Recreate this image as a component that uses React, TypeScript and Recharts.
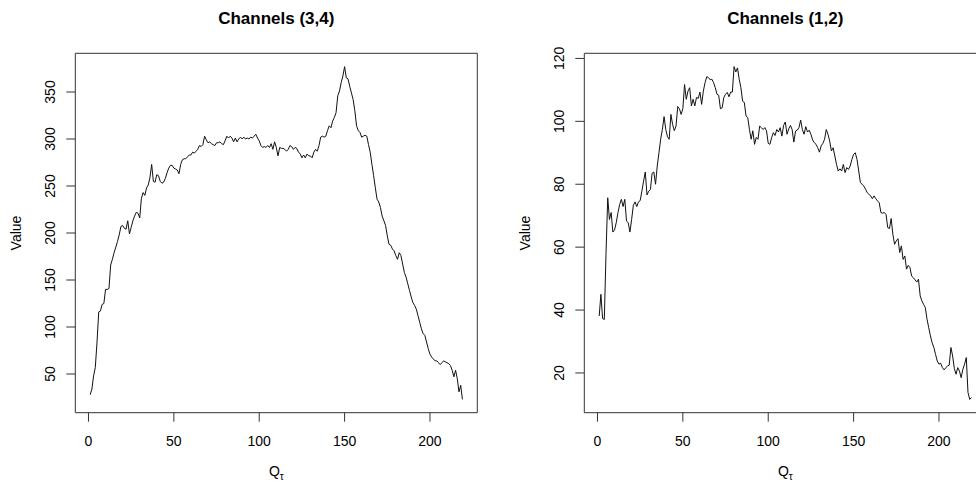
import { LineChart, Line, XAxis, YAxis, ReferenceArea } from "recharts";

// values, x = 1..219
const xTicks = [0, 50, 100, 150, 200];
const ticks34 = [50, 100, 150, 200, 250, 300, 350];
const ticks12 = [20, 40, 60, 80, 100, 120];

const channels34 = [
  28, 34, 48, 57, 84, 116, 117, 124, 125, 140, 140, 141, 166, 172, 179, 185, 191, 198, 207, 208,
  205, 204, 213, 199, 206, 213, 218, 222, 221, 216, 237, 243, 240, 248, 251, 259, 273, 255, 254, 262,
  261, 255, 253, 254, 258, 264, 269, 272, 272, 269, 268, 267, 263, 273, 278, 279, 279, 281, 283, 283,
  286, 285, 287, 289, 293, 292, 294, 303, 299, 296, 297, 295, 294, 293, 296, 296, 297, 295, 294, 298,
  303, 301, 303, 301, 297, 301, 297, 300, 302, 300, 302, 300, 301, 300, 302, 301, 303, 305, 301, 298,
  293, 291, 292, 291, 293, 291, 295, 289, 297, 291, 282, 291, 290, 290, 289, 287, 289, 293, 292, 289,
  291, 290, 286, 284, 280, 283, 280, 284, 282, 282, 280, 286, 289, 287, 293, 302, 303, 302, 303, 309,
  314, 312, 319, 323, 328, 346, 351, 360, 367, 377, 365, 364, 356, 349, 342, 330, 314, 309, 307, 302,
  303, 304, 303, 294, 286, 273, 261, 248, 236, 233, 227, 218, 213, 208, 197, 188, 187, 183, 181, 176,
  172, 179, 176, 167, 158, 153, 146, 139, 132, 126, 123, 119, 112, 105, 98, 93, 91, 84, 77, 71,
  68, 66, 64, 64, 62, 60, 62, 64, 63, 62, 61, 59, 54, 47, 54, 45, 31, 38, 23,
];

const channels12 = [
  38.1, 45, 37.3, 37, 58, 75.7, 68.8, 71, 64.8, 65.5, 67.8, 71, 73.6, 75.2, 72.9, 75.2, 68.3, 67.8, 64.8, 68.8,
  73.3, 74.4, 72.9, 74.4, 74.8, 77.8, 81, 83.9, 76.6, 77.8, 78.3, 83.5, 83.9, 80, 85.8, 90, 94.3, 97.4, 101.5, 97.4,
  95.1, 94.3, 102.2, 99, 97, 98.5, 104.7, 104, 102.2, 104, 111.7, 107, 109.6, 110.7, 104.9, 107, 104.9, 107.6, 107.3, 109.3,
  105.4, 109.6, 112.3, 114.2, 113.9, 113.2, 113.4, 112.3, 110.7, 108.6, 108.3, 104, 104.3, 107.6, 108.6, 109.2, 107.8, 109.3, 109.3, 117.4,
  115.7, 117, 113.4, 110.7, 106.4, 106, 101.7, 101.2, 97.4, 94.3, 97, 92.7, 94.9, 94.3, 98.5, 98, 97.4, 98, 97, 93,
  92.7, 94.8, 96.4, 95.5, 97.4, 96.6, 98, 95.3, 98.7, 99.8, 95.9, 97.6, 98.7, 97.4, 93.4, 96.9, 97.2, 98, 100.4, 97.4,
  95.9, 98.3, 96.6, 97.2, 95.9, 94.1, 93.2, 92.7, 91.6, 90.2, 92.2, 93, 94.3, 97.4, 95.9, 93.7, 90.6, 91.6, 89, 86.3,
  84.2, 84.9, 84.2, 86.3, 83.7, 85.3, 84.7, 85.8, 87.9, 89.5, 90, 87.9, 84.2, 80.5, 80, 79.4, 78.4, 77.3, 76.8, 76.3,
  75.4, 76.3, 75.4, 74.7, 74.1, 71, 70.8, 71, 70.4, 66.2, 65.9, 69.1, 64.1, 60.9, 62, 62.7, 58.3, 60.4, 56.1, 57.2,
  53, 54.2, 53.5, 50.8, 50.3, 49.6, 48.9, 49.8, 44.5, 42.9, 41.8, 40.8, 37.1, 34.4, 31.8, 29.6, 28.1, 25.9, 23.8, 22.8,
  23.1, 21.7, 21, 21.7, 22.2, 22.5, 28.1, 25.4, 21.4, 19.6, 21.7, 20.6, 18.5, 21.2, 22.8, 24.9, 13.8, 11.6, 12.2,
];

const FONT = "'Liberation Sans', Arial, Helvetica, sans-serif";
const W = 488;
const H = 481;
// plot region (same for both panels)
const PL = 75.3;
const PR = 477.3;
const PT = 53.3;
const PB = 412.7;
const CX = (PL + PR) / 2;

// R style 4% padding
function padRange(lo: number, hi: number): [number, number] {
  const d = (hi - lo) * 0.04;
  return [lo - d, hi + d];
}

const XTick = (props: any) => {
  const { x, y, payload } = props;
  return (
    <text x={x} y={y + 24} textAnchor="middle" fontSize={14} fontFamily={FONT} fill="#000">
      {payload.value}
    </text>
  );
};

const YTick = (props: any) => {
  const { x, y, payload } = props;
  const bx = x - 11;
  return (
    <text x={bx} y={y} transform={`rotate(-90 ${bx} ${y})`} textAnchor="middle" fontSize={14} fontFamily={FONT} fill="#000">
      {payload.value}
    </text>
  );
};

function Panel({ title, values, yTicks }: { title: string; values: number[]; yTicks: number[] }) {
  const data = values.map((v, i) => ({ x: i + 1, v }));
  const xDomain = padRange(1, values.length);
  const yDomain = padRange(Math.min(...values), Math.max(...values));
  const vx = PL - 54.6;
  const vy = (PT + PB) / 2;

  return (
    <LineChart width={W} height={H} data={data} margin={{ top: PT, right: W - PR, bottom: 0, left: 0 }}>
      <XAxis
        dataKey="x"
        type="number"
        domain={xDomain}
        ticks={xTicks}
        interval={0}
        allowDataOverflow
        axisLine={false}
        tickLine={{ stroke: "#333" }}
        tickSize={9}
        tickMargin={0}
        height={H - PB}
        tick={<XTick />}
        label={{
          content: () => (
            <g fontFamily={FONT}>
              <text x={CX} y={24} textAnchor="middle" fontSize={17} fontWeight="bold" fill="#000">
                {title}
              </text>
              <text x={CX} y={476} textAnchor="middle" fontSize={14} fill="#000">
                Q
                <tspan fontSize={10} dy={3.5}>τ</tspan>
              </text>
            </g>
          ),
        }}
      />
      <YAxis
        type="number"
        domain={yDomain}
        ticks={yTicks}
        interval={0}
        allowDataOverflow
        axisLine={false}
        tickLine={{ stroke: "#333" }}
        tickSize={9}
        tickMargin={0}
        width={PL}
        tick={<YTick />}
        label={{
          content: () => (
            <text x={vx} y={vy} transform={`rotate(-90 ${vx} ${vy})`} textAnchor="middle" fontSize={14} fontFamily={FONT} fill="#000">
              Value
            </text>
          ),
        }}
      />
      <ReferenceArea
        x1={xDomain[0]}
        x2={xDomain[1]}
        y1={yDomain[0]}
        y2={yDomain[1]}
        fill="none"
        stroke="#333"
        strokeWidth={1}
        ifOverflow="visible"
      />
      <Line type="linear" dataKey="v" stroke="#111" strokeWidth={1} dot={false} isAnimationActive={false} />
    </LineChart>
  );
}

export default function App() {
  return (
    <div style={{ position: "absolute", left: 0, top: 0, width: 976, height: 481, overflow: "hidden", background: "#fff" }}>
      <div style={{ position: "absolute", left: 0, top: 0 }}>
        <Panel title="Channels (3,4)" values={channels34} yTicks={ticks34} />
      </div>
      <div style={{ position: "absolute", left: 509, top: 0 }}>
        <Panel title="Channels (1,2)" values={channels12} yTicks={ticks12} />
      </div>
    </div>
  );
}
